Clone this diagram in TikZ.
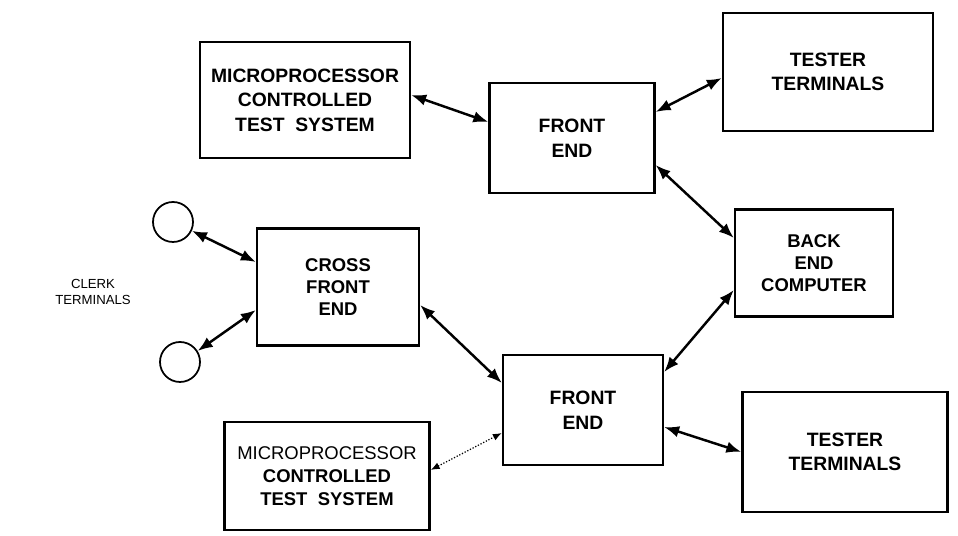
\documentclass[tikz,border=0pt]{standalone}
\usepackage{fontspec}
\setmainfont{Liberation Sans}
\usetikzlibrary{arrows.meta,positioning}
\tikzset{
  >=Latex,
  box/.style={draw=black,line width=1.3pt,fill=white,align=center,font=\fontsize{11}{14}\selectfont\bfseries,inner sep=2pt},
  term/.style={circle,draw=black,line width=1pt,minimum size=.8cm,inner sep=0pt},
  note/.style={font=\fontsize{7.5}{9}\selectfont,align=center},
  link/.style={{Latex[length=3mm,width=2.3mm]}-{Latex[length=3mm,width=2.3mm]},line width=1.4pt},
  dotlink/.style={{Latex[length=1.8mm,width=1.4mm]}-{Latex[length=1.8mm,width=1.4mm]},line width=.7pt,densely dotted}
}
\begin{document}
\begin{tikzpicture}[x=1cm,y=1cm]
  \useasboundingbox (0,0) rectangle (19.16,10.72);
  \node[box,minimum width=4.2cm,minimum height=2.32cm] (mctsA) at (6.10,8.72) {MICROPROCESSOR\\CONTROLLED\\TEST\ \ SYSTEM};
  \node[box,minimum width=3.3cm,minimum height=2.2cm] (feA) at (11.44,7.96) {FRONT\\END};
  \node[box,minimum width=4.2cm,minimum height=2.36cm] (ttA) at (16.56,9.28) {TESTER\\TERMINALS};
  \node[box,minimum width=3.16cm,minimum height=2.14cm,font=\fontsize{10.5}{12.5}\selectfont\bfseries] (bec) at (16.28,5.46) {BACK\\END\\COMPUTER};
  \node[box,minimum width=3.24cm,minimum height=2.34cm,font=\fontsize{10.5}{12.5}\selectfont\bfseries] (cfe) at (6.76,4.98) {CROSS\\FRONT\\END};
  \node[box,minimum width=3.2cm,minimum height=2.2cm] (feB) at (11.66,2.52) {FRONT\\END};
  \node[box,minimum width=4.1cm,minimum height=2.16cm,font=\fontsize{10.5}{13}\selectfont\bfseries] (mctsB) at (6.54,1.20) {{\mdseries MICROPROCESSOR}\\CONTROLLED\\TEST\ \ SYSTEM};
  \node[box,minimum width=4.1cm,minimum height=2.4cm] (ttB) at (16.90,1.68) {TESTER\\TERMINALS};
  \node[term] (ckA) at (3.46,6.28) {};
  \node[term] (ckB) at (3.60,3.48) {};
  \node[note] (clerk) at (1.86,4.88) {CLERK\\TERMINALS};
    \draw[link] ([yshift=.1cm]mctsA.east)--([yshift=.32cm]feA.west);
    \draw[link] ([yshift=.52cm]feA.east)--([yshift=-.12cm]ttA.west);
    \draw[link] ([yshift=-.54cm]feA.east)--([yshift=.5cm]bec.west);
    \draw[link] ([yshift=-.54cm]bec.west)--([yshift=.76cm]feB.east);
    \draw[link] ([yshift=-.36cm]cfe.east)--([yshift=.54cm]feB.west);
    \draw[link] (ckA.-25)--([yshift=.5cm]cfe.west);
    \draw[link] (ckB.32)--([yshift=-.46cm]cfe.west);
    \draw[link] ([yshift=-.34cm]feB.east)--(ttB.west);
    \draw[dotlink] ([yshift=.12cm]mctsB.east)--([yshift=-.46cm]feB.west);
\end{tikzpicture}
\end{document}
